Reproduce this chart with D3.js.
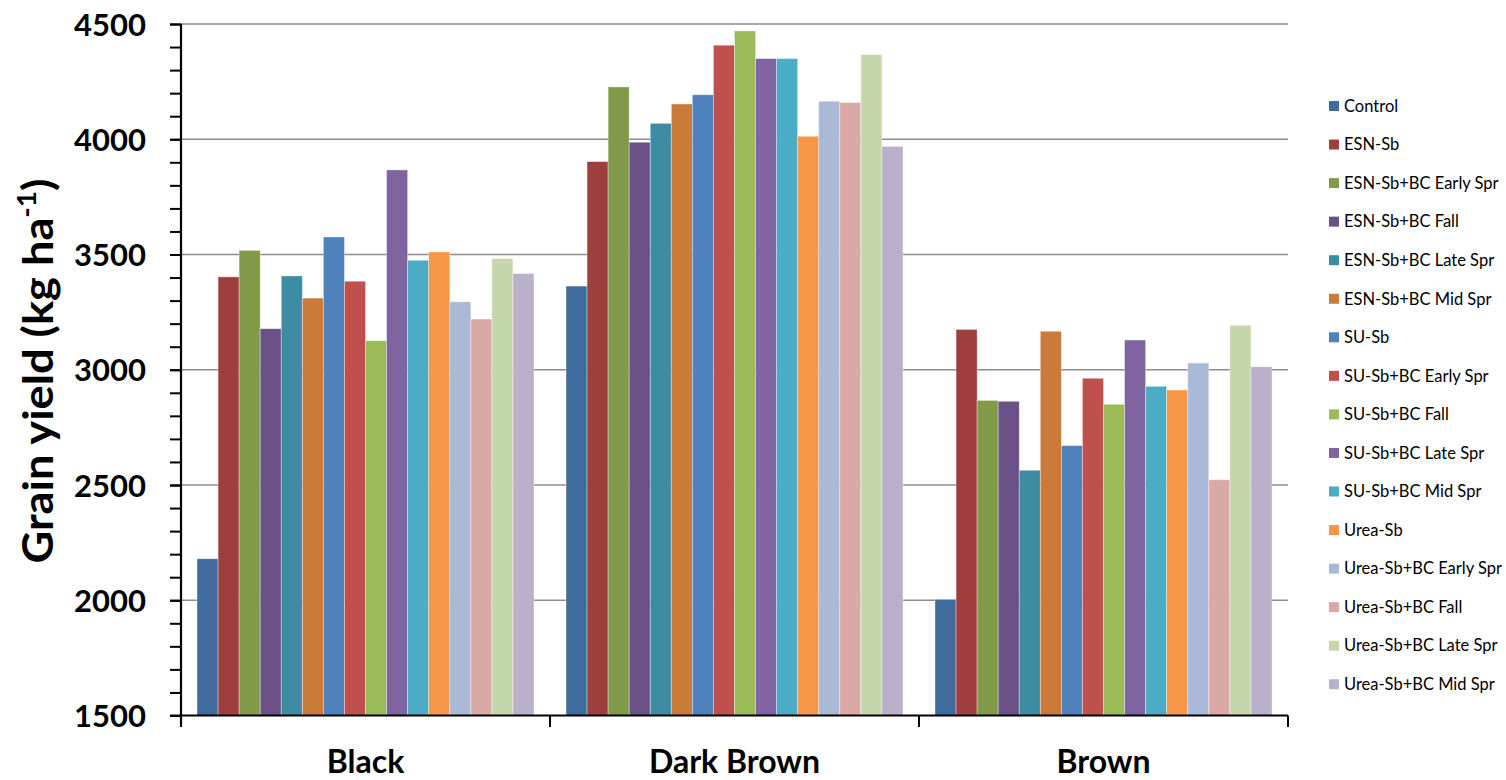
<!DOCTYPE html>
<html><head><meta charset="utf-8">
<script src="https://cdn.jsdelivr.net/npm/d3@7"></script>
<style>body{margin:0;background:#fff;} svg{display:block;}</style>
</head><body>
<svg id="chart" width="1506" height="780"></svg>
<script>
const categories = ["Black", "Dark Brown", "Brown"];
const seriesNames = ["Control","ESN-Sb","ESN-Sb+BC Early Spr","ESN-Sb+BC Fall","ESN-Sb+BC Late Spr","ESN-Sb+BC Mid Spr","SU-Sb","SU-Sb+BC Early Spr","SU-Sb+BC Fall","SU-Sb+BC Late Spr","SU-Sb+BC Mid Spr","Urea-Sb","Urea-Sb+BC Early Spr","Urea-Sb+BC Fall","Urea-Sb+BC Late Spr","Urea-Sb+BC Mid Spr"];
const seriesColors = ["#3F6B9D","#9E3F3D","#809A49","#6A5087","#3D8CA3","#CB7B39","#4F81BD","#C0504D","#9BBB59","#8064A2","#4BACC6","#F79646","#AAB9D6","#D9A9A8","#C6D6AC","#BAB0C9"];
// values per category, in series order
const valuesBlack = [2180,3403,3518,3178,3407,3311,3576,3384,3126,3867,3475,3511,3295,3220,3482,3417];
const valuesDarkBrown = [3363,3903,4227,3987,4069,4153,4193,4408,4470,4350,4350,4013,4165,4159,4367,3969];
const valuesBrown = [2004,3175,2867,2863,2564,3167,2671,2963,2850,3129,2928,2912,3029,2523,3193,3013];
const yMajorTicks = [1500,2000,2500,3000,3500,4000,4500];
const yMinorTicks = d3.range(1500, 4501, 100);

const allValues = [valuesBlack, valuesDarkBrown, valuesBrown];
const svg = d3.select("#chart");
const font = "Lato, 'Open Sans', sans-serif";

const x0 = d3.scaleBand().domain(categories).range([181, 1288]).padding(0);
const x1 = d3.scaleBand().domain(seriesNames).range([0, x0.bandwidth()]).paddingInner(0).paddingOuter(0.76);
const y = d3.scaleLinear().domain([1500, 4500]).range([715.5, 24]);

// gridlines
svg.append("g").selectAll("line").data(yMajorTicks.slice(1)).join("line")
  .attr("x1", 181).attr("x2", 1288)
  .attr("y1", d => y(d)).attr("y2", d => y(d))
  .attr("stroke", "#8c8c8c").attr("stroke-width", 1.6);

// bars
const groups = svg.append("g").selectAll("g").data(categories).join("g")
  .attr("transform", d => `translate(${x0(d)},0)`);
groups.selectAll("rect").data((d, i) => seriesNames.map((s, j) => ({s, j, v: allValues[i][j]}))).join("rect")
  .attr("x", d => x1(d.s)).attr("width", x1.bandwidth())
  .attr("y", d => y(d.v)).attr("height", d => y(1500) - y(d.v))
  .attr("fill", d => seriesColors[d.j])
  .attr("stroke", "rgba(255,255,255,0.45)").attr("stroke-width", 0.8);

// y axis
const yAxisMinor = d3.axisLeft(y).tickValues(yMinorTicks).tickSize(11).tickFormat("");
svg.append("g").attr("transform", "translate(181,0)").call(yAxisMinor)
  .call(g => g.select(".domain").remove())
  .selectAll("line").attr("stroke", "#000").attr("stroke-width", 2);
const yAxis = d3.axisLeft(y).tickValues(yMajorTicks).tickSize(11).tickPadding(24).tickFormat(d3.format("d"));
const ya = svg.append("g").attr("transform", "translate(181,0)").call(yAxis);
ya.select(".domain").remove();
ya.selectAll("line").attr("stroke", "#000").attr("stroke-width", 2);
ya.selectAll("text").attr("font-family", font).attr("font-weight", "bold").attr("font-size", 31).attr("fill", "#000").attr("dy", "0.36em");
svg.append("line").attr("x1", 181).attr("x2", 181).attr("y1", 24).attr("y2", 727).attr("stroke", "#000").attr("stroke-width", 2.2);

// x axis
svg.append("line").attr("x1", 170).attr("x2", 1288).attr("y1", 715.5).attr("y2", 715.5).attr("stroke", "#000").attr("stroke-width", 2.2);
const xBounds = categories.map(c => x0(c)).concat([x0(categories[categories.length-1]) + x0.bandwidth()]);
svg.append("g").selectAll("line").data(xBounds).join("line")
  .attr("x1", d => d).attr("x2", d => d).attr("y1", 715.5).attr("y2", 727)
  .attr("stroke", "#000").attr("stroke-width", 2);
svg.append("g").selectAll("text").data(categories).join("text")
  .attr("x", d => x0(d) + x0.bandwidth() / 2).attr("y", 773)
  .attr("text-anchor", "middle").attr("font-family", font).attr("font-weight", "bold").attr("font-size", 32)
  .text(d => d);

// y title
const ytg = svg.append("g").attr("transform", "translate(53,371) rotate(-90)");
const yt = ytg.append("text")
  .attr("text-anchor", "middle").attr("font-family", font).attr("font-weight", "bold").attr("font-size", 42);
yt.append("tspan").text("Grain yield (kg ha");
yt.append("tspan").attr("font-size", 26).attr("dy", -17).text("-1");
yt.append("tspan").attr("dy", 17).text(")");
const tw = yt.node().getBBox().width;
yt.attr("transform", `scale(${385 / tw},1)`);

// legend
const legend = svg.append("g").selectAll("g").data(seriesNames).join("g")
  .attr("transform", (d, i) => `translate(1329,${106 + i * 38.55})`);
legend.append("rect").attr("x", 0).attr("y", -5).attr("width", 10).attr("height", 10)
  .attr("fill", (d, i) => seriesColors[i]);
legend.append("text").attr("x", 15).attr("y", 0).attr("dy", "0.35em")
  .attr("font-family", font).attr("font-size", 16.5).attr("fill", "#000").text(d => d);
</script>
</body></html>
